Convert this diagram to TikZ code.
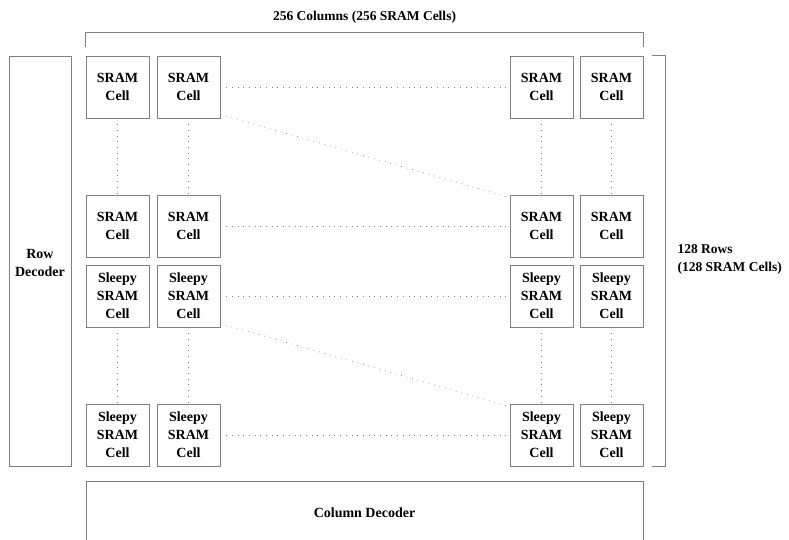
\documentclass[tikz,border=0pt]{standalone}
\usepackage{fontspec}
\setmainfont{Liberation Serif}
\tikzset{
  cell/.style={draw=gray,line width=0.9pt,minimum width=63pt,minimum height=62pt,inner sep=0pt,align=center,font=\fontsize{14}{18}\selectfont\bfseries},
  block/.style={draw=gray,line width=0.9pt,inner sep=0pt,align=center,font=\fontsize{14}{18}\selectfont\bfseries},
  link/.style={gray,line width=0.7pt,dash pattern=on 0.7pt off 5pt},
  brace/.style={gray,line width=0.9pt}
}
\begin{document}
\begin{tikzpicture}[x=1pt,y=-1pt]
  \clip (0,0) rectangle (789,539);
  \foreach \j/\y/\txt in {1/87/{SRAM\\Cell},2/226/{SRAM\\Cell},3/296/{Sleepy\\SRAM\\Cell},4/435/{Sleepy\\SRAM\\Cell}}
    \foreach \i/\x in {1/117.5,2/188.5,3/541.5,4/611.5}
      \node[cell] (s\j\i) at (\x,\y) {\txt};
  \node[block,minimum width=62pt,minimum height=410pt] (rowdec) at (40,261) {};
  \node[font=\fontsize{14}{18}\selectfont\bfseries,align=center] (rowtxt) at (40,263) {Row\\Decoder};
  \node[block,minimum width=557pt,minimum height=64pt] (coldec) at (364.5,513) {Column Decoder};
  \foreach \j in {1,...,4} \draw[link] (s\j2.east) -- (s\j3.west);
  \foreach \i in {1,...,4} {
    \draw[link] (s1\i.south) -- (s2\i.north);
    \draw[link] (s3\i.south) -- (s4\i.north);
  }
  \draw[link] ([yshift=4pt]s12.south east) -- ([yshift=-3pt]s23.north west);
  \draw[link] ([yshift=4pt]s32.south east) -- ([yshift=-3pt]s43.north west);
  \draw[brace] ([yshift=9pt]s11.north west) -- ++(0,-14) -| ([yshift=9pt]s14.north east);
  \draw[brace] ([xshift=9pt]s14.north east) -- ++(13,0) |- ([xshift=9pt]s44.south east);
  \node[font=\fontsize{13.5}{18}\selectfont\bfseries] (cols) at (364.5,17) {256 Columns (256 SRAM Cells)};
  \node[anchor=west,align=left,font=\fontsize{13.5}{18}\selectfont\bfseries] (rows) at (674,259) {128 Rows\\(128 SRAM Cells)};
\end{tikzpicture}
\end{document}
